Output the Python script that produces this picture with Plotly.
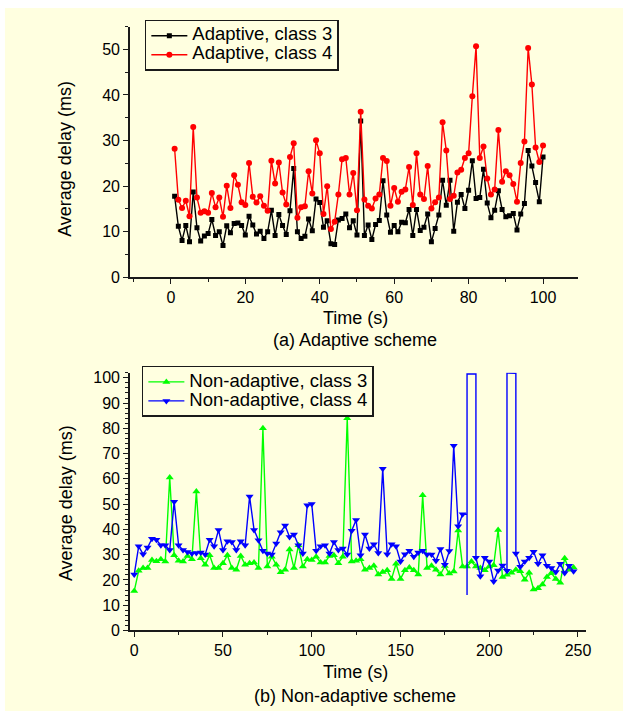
import plotly.graph_objects as go

W, H = 633, 725

# ---------------- data: (a) adaptive scheme ----------------
time_a = list(range(1, 101))
adaptive_class3 = [
    17.8, 11.2, 8.1, 11.4, 7.8, 18.7, 10.9, 8.0, 9.1, 9.6,
    12.7, 9.2, 10.0, 7.0, 11.3, 9.8, 11.8, 11.9, 11.4, 9.3,
    13.4, 11.5, 9.5, 10.1, 8.5, 10.0, 14.7, 9.2, 13.8, 11.4,
    9.4, 14.6, 23.9, 10.0, 8.5, 9.0, 12.8, 10.2, 17.2, 16.4,
    11.0, 12.4, 7.4, 7.2, 12.6, 12.9, 13.9, 10.9, 12.4, 9.3,
    34.3, 9.2, 11.5, 8.3, 11.6, 12.5, 21.2, 13.7, 9.9, 11.4,
    10.0, 12.1, 12.0, 14.9, 9.2, 14.9, 10.3, 11.0, 13.9, 7.8,
    10.7, 13.7, 21.3, 15.8, 21.3, 10.1, 16.5, 18.2, 15.1, 19.1,
    25.6, 17.3, 17.5, 23.7, 16.3, 13.1, 14.7, 19.0, 14.9, 13.3,
    13.5, 14.0, 10.4, 13.9, 16.2, 27.8, 24.4, 20.8, 16.6, 26.4,
]
adaptive_class4 = [
    28.2, 17.0, 15.2, 16.8, 13.4, 33.0, 17.5, 14.2, 14.5, 14.2,
    18.5, 15.4, 17.5, 13.3, 20.1, 15.2, 22.4, 20.3, 16.5, 15.9,
    25.1, 17.7, 16.4, 17.8, 15.7, 14.6, 25.6, 20.6, 25.2, 18.6,
    16.0, 26.4, 29.4, 13.1, 15.4, 15.6, 23.3, 18.4, 30.1, 27.2,
    13.9, 20.0, 10.6, 12.2, 18.2, 25.9, 26.2, 18.2, 22.9, 14.7,
    36.3, 17.1, 15.7, 15.1, 17.3, 18.2, 26.2, 25.5, 15.7, 19.6,
    16.6, 18.8, 19.3, 24.2, 15.9, 27.2, 18.2, 17.2, 24.4, 15.1,
    16.5, 17.5, 34.0, 27.8, 17.2, 17.9, 23.0, 23.6, 26.2, 27.2,
    39.7, 50.7, 26.2, 28.7, 21.7, 18.2, 19.3, 32.3, 21.0, 23.3,
    22.4, 20.5, 16.6, 25.1, 29.8, 50.3, 42.3, 28.5, 25.3, 28.9,
]

# ---------------- data: (b) non-adaptive scheme ----------------
time_b = [i * 2.5 for i in range(100)]
nonadaptive_class3 = [
    15.6, 23.6, 24.7, 24.7, 27.9, 27.4, 28.2, 27.3, 60.5, 29.8,
    27.6, 27.3, 29.5, 28.2, 55.0, 28.6, 26.0, 29.8, 24.7, 24.7,
    26.6, 29.8, 24.7, 24.0, 29.5, 26.0, 26.6, 26.9, 24.7, 80.0,
    25.3, 29.2, 26.0, 23.0, 24.0, 32.0, 24.7, 33.7, 25.3, 28.2,
    27.9, 29.2, 26.9, 26.9, 29.5, 29.8, 26.6, 29.2, 84.0, 27.3,
    27.6, 28.2, 24.0, 24.7, 25.6, 22.1, 23.1, 23.8, 20.4, 26.4,
    20.4, 23.8, 24.9, 23.8, 22.1, 53.5, 24.7, 25.6, 24.0, 22.1,
    25.5, 22.5, 23.3, 39.6, 25.3, 25.3, 27.3, 25.3, 24.7, 23.8,
    25.3, 25.8, 39.8, 21.2, 22.0, 22.8, 24.0, 23.4, 20.1, 22.8,
    16.2, 16.7, 18.2, 21.2, 22.7, 20.4, 18.9, 28.6, 24.0, 24.9,
]
nonadaptive_class4 = [
    22.1, 33.3, 30.2, 32.8, 36.3, 35.9, 33.7, 33.7, 31.8, 50.9,
    33.7, 31.8, 31.1, 30.5, 30.7, 30.9, 30.1, 35.9, 33.3, 39.8,
    31.8, 35.3, 35.0, 31.8, 35.3, 33.7, 53.0, 39.8, 35.7, 31.5,
    30.5, 30.1, 34.4, 38.9, 41.5, 37.0, 38.0, 33.7, 30.5, 49.6,
    50.1, 31.5, 33.3, 33.7, 30.5, 35.0, 31.8, 32.4, 30.1, 39.5,
    43.7, 29.8, 38.0, 32.4, 34.1, 30.7, 64.0, 30.2, 34.1, 33.3,
    27.3, 30.2, 31.5, 29.2, 30.9, 31.5, 30.1, 30.1, 27.6, 32.2,
    26.0, 31.4, 73.1, 41.2, 46.0, None, None, 28.8, 21.5, 28.8,
    27.3, 19.4, 23.7, 25.7, 23.6, None, 30.5, 25.2, 27.3, 28.8,
    31.2, 26.4, 29.8, 25.6, 24.7, 23.1, 26.4, 22.7, 25.6, 23.4,
]
# spikes of the class-4 curve drawn without markers in the original
spike1_time = [185.0, 187.5, 187.5, 187.5, 192.5, 192.5]
spike1_delay = [46.0, 46.0, 14.0, 101.5, 101.5, 28.8]
spike2_time = [210.0, 210.0, 215.0, 215.0]
spike2_delay = [23.6, 101.9, 101.8, 30.5]

FONT = "Arial, Liberation Sans, sans-serif"
BG = "#FFFFE0"
AX = "#1a1a1a"


def leg_text(s):
    return '<span style="font-size:18.5px">' + s + '</span>'


fig = go.Figure()

fig.add_trace(go.Scatter(
    x=time_a, y=adaptive_class3, mode="lines+markers",
    name=leg_text("Adaptive, class 3"),
    line=dict(color="black", width=1.4),
    marker=dict(symbol="square", size=5, color="black"),
    xaxis="x", yaxis="y", legend="legend"))
fig.add_trace(go.Scatter(
    x=time_a, y=adaptive_class4, mode="lines+markers",
    name=leg_text("Adaptive, class 4"),
    line=dict(color="#FF0000", width=1.4),
    marker=dict(symbol="circle", size=6, color="#FF0000"),
    xaxis="x", yaxis="y", legend="legend"))

fig.add_trace(go.Scatter(
    x=time_b, y=nonadaptive_class3, mode="lines+markers",
    name=leg_text("Non-adaptive, class 3"),
    line=dict(color="#00FF00", width=1.4),
    marker=dict(symbol="triangle-up", size=7, color="#00FF00"),
    xaxis="x2", yaxis="y2", legend="legend2"))
fig.add_trace(go.Scatter(
    x=time_b, y=nonadaptive_class4, mode="lines+markers",
    name=leg_text("Non-adaptive, class 4"),
    line=dict(color="#0000FF", width=1.4),
    marker=dict(symbol="triangle-down", size=7, color="#0000FF"),
    connectgaps=False,
    xaxis="x2", yaxis="y2", legend="legend2"))
for st, sd in ((spike1_time, spike1_delay), (spike2_time, spike2_delay)):
    fig.add_trace(go.Scatter(
        x=st, y=sd, mode="lines", showlegend=False, hoverinfo="skip",
        line=dict(color="#0000FF", width=1.4),
        xaxis="x2", yaxis="y2"))


def axis_common(**kw):
    d = dict(showline=True, linecolor=AX, linewidth=1.5, mirror=False,
             ticks="outside", ticklen=5, tickwidth=1.2, tickcolor=AX,
             showgrid=False, zeroline=False,
             tickfont=dict(family=FONT, size=16, color="black"))
    d.update(kw)
    return d


fig.update_layout(
    width=W, height=H,
    margin=dict(l=0, r=0, t=0, b=0),
    paper_bgcolor="white", plot_bgcolor="rgba(0,0,0,0)",
    font=dict(family=FONT, color="black"),
    xaxis=axis_common(domain=[131 / W, 583 / W], range=[-11, 109.5], anchor="y",
                      tick0=0, dtick=20,
                      minor=dict(dtick=10, ticks="outside", ticklen=3, tickcolor=AX, tickwidth=1.2)),
    yaxis=axis_common(domain=[1 - 279 / H, 1 - 24 / H], range=[0, 55], anchor="x",
                      tick0=0, dtick=10,
                      minor=dict(dtick=5, ticks="outside", ticklen=3, tickcolor=AX, tickwidth=1.2)),
    xaxis2=axis_common(domain=[131 / W, 591 / W], range=[-2.4, 254.7], anchor="y2",
                       tick0=0, dtick=50,
                       minor=dict(dtick=25, ticks="outside", ticklen=3, tickcolor=AX, tickwidth=1.2)),
    yaxis2=axis_common(domain=[1 - 638 / H, 1 - 376 / H], range=[0, 102], anchor="x2",
                       tick0=0, dtick=10,
                       minor=dict(dtick=2, ticks="outside", ticklen=3, tickcolor=AX, tickwidth=1.2)),
    legend=dict(x=146 / W, y=1 - 17 / H, xanchor="left", yanchor="top",
                bgcolor="rgba(0,0,0,0)", bordercolor=AX, borderwidth=1.5,
                font=dict(family=FONT, size=12, color="black"),
                itemwidth=36, tracegroupgap=0),
    legend2=dict(x=143 / W, y=1 - 369 / H, xanchor="left", yanchor="top",
                 bgcolor="rgba(0,0,0,0)", bordercolor=AX, borderwidth=1.5,
                 font=dict(family=FONT, size=12, color="black"),
                 itemwidth=36, tracegroupgap=0),
    shapes=[dict(type="rect", xref="paper", yref="paper",
                 x0=5 / W, x1=628 / W, y0=1 - 720 / H, y1=1 - 5 / H,
                 fillcolor=BG, line=dict(width=0), layer="below")],
)

annots = [
    ("Average delay (ms)", 66, 158, -90),
    ("Time (s)", 358, 320, 0),
    ("(a) Adaptive scheme", 358, 343, 0),
    ("Average delay (ms)", 66, 508, -90),
    ("Time (s)", 358, 680, 0),
    ("(b) Non-adaptive scheme", 358, 705, 0),
]
for txt, px, py, ang in annots:
    fig.add_annotation(text=txt, x=px / W, y=1 - py / H, xref="paper", yref="paper",
                       xanchor="center", yanchor="middle", showarrow=False,
                       textangle=ang, font=dict(family=FONT, size=18, color="black"))

fig.write_html("out.html")
